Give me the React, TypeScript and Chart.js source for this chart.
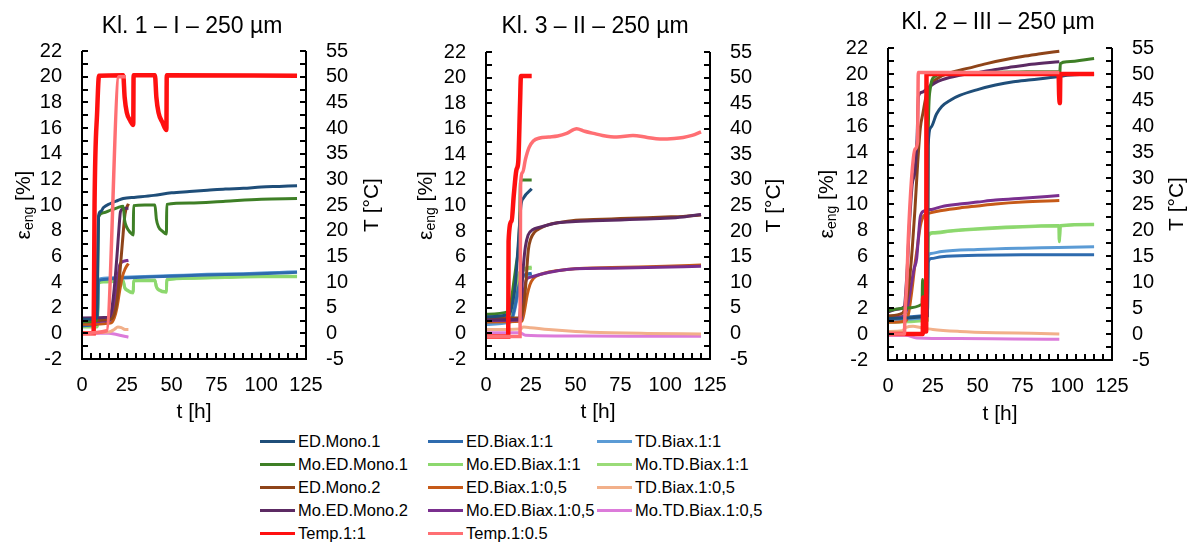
import { useEffect, useRef } from 'react';
import { Chart, registerables } from 'chart.js';

Chart.register(...registerables);

type P = [number, number][];

const FONT = '"Liberation Sans", Arial, Helvetica, sans-serif';

// ---- legend / series meta ----
const SERIES_NAMES = [
  'ED.Mono.1', 'Mo.ED.Mono.1', 'ED.Mono.2', 'Mo.ED.Mono.2',
  'ED.Biax.1:1', 'Mo.ED.Biax.1:1', 'ED.Biax.1:0,5', 'Mo.ED.Biax.1:0,5',
  'TD.Biax.1:1', 'Mo.TD.Biax.1:1', 'TD.Biax.1:0,5', 'Mo.TD.Biax.1:0,5',
  'Temp.1:1', 'Temp.1:0.5',
];
const SERIES_COLORS = [
  '#1F4E79', '#3E7F26', '#8E4419', '#5C2A63',
  '#2E6BAE', '#8CD86E', '#C65A18', '#7A2F8E',
  '#5B9BD5', '#9ADB78', '#F2B08A', '#DC7BDA',
  '#FF1010', '#FF6F73',
];
const TEMP_SERIES = [12, 13];

const PANEL_TITLES = ['Kl. 1 – I – 250 µm', 'Kl. 3 – II – 250 µm', 'Kl. 2 – III – 250 µm'];
const X_RANGE = [0, 125];
const Y_RANGE = [-2, 22];
const T_RANGE = [-5, 55];
const X_TICK_STEP = 25;
const Y_TICK_STEP = 2;
const T_TICK_STEP = 5;
const X_MINOR_STEP = 5;
const Y_MINOR_STEP = 1;
const T_MINOR_STEP = 2.5;

// ---- Panel 1 : strain [%] / temperature [°C] over t [h] ----
const P1_ED_MONO_1: P = [[0, 1.1], [5, 1.1], [8.3, 1.2], [8.8, 6], [9.3, 9.2], [10.5, 9.5], [12, 9.8], [15.6, 10.1], [20, 10.35], [23, 10.5], [30, 10.6], [40, 10.75], [50, 10.95], [60, 11.05], [70, 11.15], [80, 11.25], [90, 11.3], [100, 11.4], [110, 11.45], [120, 11.5]];
const P1_MO_ED_MONO_1: P = [[0, 0.9], [8.3, 1.0], [8.8, 5], [9.3, 9.1], [12, 9.4], [16, 9.6], [20, 9.8], [23, 9.9], [23.8, 8.8], [25, 8.25], [27, 7.85], [28.6, 7.66], [28.8, 9.95], [35, 10.0], [40.7, 10.0], [41.5, 8.9], [42.7, 8.3], [45, 7.95], [47.1, 7.74], [47.3, 10.05], [60, 10.15], [80, 10.3], [100, 10.45], [120, 10.5]];
const P1_ED_MONO_2: P = [[0, 1.0], [16, 1.1], [18, 1.5], [19.5, 2.5], [21, 4.5], [22.5, 7.0], [24, 9.3], [25.9, 10.1]];
const P1_MO_ED_MONO_2: P = [[0, 1.2], [15, 1.25], [16.5, 1.8], [18, 3.5], [19.5, 6.0], [20.8, 8.5], [21.5, 9.5], [23, 9.7], [25.9, 9.75]];
const P1_ED_BIAX_11: P = [[0, 0.6], [8.5, 0.7], [9.2, 4.1], [12, 4.2], [20, 4.3], [30, 4.35], [50, 4.45], [70, 4.55], [90, 4.6], [110, 4.7], [120, 4.75]];
const P1_MO_ED_BIAX_11: P = [[0, 0.5], [8.5, 0.5], [9.2, 3.9], [12, 4.0], [20, 4.05], [23, 4.05], [23.8, 3.6], [25, 3.4], [28.6, 3.2], [28.8, 4.1], [40.7, 4.1], [41.5, 3.65], [43, 3.4], [47.1, 3.25], [47.3, 4.15], [60, 4.3], [80, 4.4], [100, 4.45], [120, 4.45]];
const P1_ED_BIAX_105: P = [[0, 0.7], [16, 0.8], [18, 1.2], [19.5, 2.0], [21, 3.3], [22.5, 4.4], [24, 5.0], [25.9, 5.45]];
const P1_MO_ED_BIAX_105: P = [[0, 0.9], [15.5, 1.0], [17, 1.5], [18.5, 2.6], [19.8, 4.0], [21, 5.3], [23, 5.6], [25.9, 5.7]];
const P1_TD_BIAX_11: P = [[0, 0.8], [8.5, 0.9], [9.2, 4.2], [12, 4.3], [20, 4.35], [30, 4.4], [50, 4.5], [70, 4.6], [90, 4.65], [110, 4.75], [120, 4.8]];
const P1_MO_TD_BIAX_11: P = [[0, 0.6], [8.5, 0.6], [9.2, 4.0], [12, 4.05], [20, 4.1], [23, 4.1], [23.8, 3.55], [25, 3.35], [28.6, 3.15], [28.8, 4.1], [40.7, 4.15], [41.5, 3.6], [43, 3.35], [47.1, 3.2], [47.3, 4.2], [60, 4.3], [80, 4.35], [100, 4.4], [120, 4.4]];
const P1_TD_BIAX_105: P = [[0, 0.05], [15, 0.1], [18, 0.3], [20, 0.5], [22, 0.45], [24, 0.3], [25.9, 0.3]];
const P1_MO_TD_BIAX_105: P = [[0, 0], [15, 0], [18, -0.05], [21, -0.15], [25.9, -0.3]];
const P1_TEMP_11: P = [[0, 0], [6.5, 0], [7, 25], [8.5, 43.5], [9.5, 50.2], [23, 50.3], [23.8, 46], [25, 43], [27, 41.4], [28.6, 40.6], [28.8, 50.3], [40.7, 50.3], [41.5, 46], [42.7, 43], [45, 41], [47.1, 39.6], [47.3, 50.3], [120, 50.2]];
const P1_TEMP_105: P = [[0, 0], [13.8, 0.5], [20.6, 50], [24.5, 50]];

// ---- Panel 2 ----
const P2_ED_MONO_1: P = [[0, 1.3], [13, 1.5], [15, 2.5], [16.5, 4], [17.5, 6], [18.5, 8], [19.5, 10], [21, 10.6], [25.5, 11.3]];
const P2_MO_ED_MONO_1: P = [[0, 1.5], [12.5, 1.7], [14, 2.5], [15.5, 4], [17, 5.5], [18, 6.5], [18.8, 9], [19.2, 11.8], [20, 12.0], [25.5, 12.0]];
const P2_ED_MONO_2: P = [[0, 1.2], [19, 1.2], [20.5, 1.8], [22, 3.5], [23.6, 6.5], [25, 7.4], [27, 7.9], [30, 8.2], [35, 8.5], [40, 8.65], [50, 8.85], [60, 8.9], [70, 8.95], [80, 9.0], [90, 9.05], [100, 9.1], [110, 9.15], [120, 9.25]];
const P2_MO_ED_MONO_2: P = [[0, 1.05], [18.5, 1.1], [19.5, 2.5], [21, 5.5], [22, 6.8], [23.5, 7.7], [26, 8.1], [30, 8.3], [35, 8.5], [40, 8.65], [50, 8.75], [60, 8.8], [70, 8.85], [80, 8.9], [90, 8.95], [100, 9.0], [110, 9.1], [120, 9.3]];
const P2_ED_BIAX_11: P = [[0, 0.9], [14, 1.1], [16, 2], [18, 3.5], [20, 4.4], [22, 4.6], [25.5, 4.7]];
const P2_MO_ED_BIAX_11: P = [[0, 1.2], [14, 1.4], [16, 2.8], [18, 4.5], [20, 5.0], [22, 5.1], [25.5, 5.2]];
const P2_ED_BIAX_105: P = [[0, 0.9], [20, 0.95], [21.5, 1.8], [23, 3.0], [24.5, 3.8], [26.5, 4.3], [30, 4.6], [35, 4.8], [45, 5.0], [55, 5.1], [70, 5.15], [85, 5.2], [100, 5.25], [120, 5.35]];
const P2_MO_ED_BIAX_105: P = [[0, 1.0], [19.5, 1.05], [21, 3.0], [22.5, 4.2], [25, 4.4], [30, 4.6], [40, 4.9], [50, 5.05], [70, 5.1], [90, 5.15], [120, 5.25]];
const P2_TD_BIAX_11: P = [[0, 0.7], [14, 0.9], [16, 1.8], [18, 3.2], [20, 4.3], [22, 4.5], [25.5, 4.6]];
const P2_MO_TD_BIAX_11: P = [[0, 1.0], [14, 1.2], [16, 2.5], [18, 4.0], [20, 4.8], [22, 5.0], [25.5, 5.1]];
const P2_TD_BIAX_105: P = [[0, 0.3], [19, 0.35], [21, 0.5], [25, 0.45], [35, 0.3], [50, 0.15], [70, 0.05], [90, 0], [120, -0.05]];
const P2_MO_TD_BIAX_105: P = [[0, 0.05], [19, 0.05], [22, -0.15], [40, -0.2], [80, -0.22], [120, -0.22]];
const P2_TEMP_11: P = [[0, -0.6], [12.4, -0.6], [12.6, 18], [14.3, 22], [15.5, 27], [17, 32], [18, 33.5], [19, 45], [19.5, 50.3], [25.5, 50.3]];
const P2_TEMP_105: P = [[0, -0.6], [19, -0.6], [19.3, 29], [20.5, 31.5], [22, 34], [24, 36.3], [26.4, 37.6], [30, 38.2], [35, 38.4], [40, 38.6], [45, 39.1], [50.6, 40.0], [55, 39.5], [60, 39.1], [65, 38.7], [73, 38.4], [82, 38.7], [90, 38.3], [97, 38.0], [105, 38.1], [110, 38.3], [115, 38.7], [120, 39.4]];

// ---- Panel 3 ----
const P3_ED_MONO_1: P = [[0, 1.2], [22, 1.4], [22.4, 14.5], [24, 15.9], [27, 16.9], [30, 17.5], [35, 18.0], [40, 18.35], [50, 18.8], [60, 19.15], [70, 19.4], [80, 19.55], [95.5, 19.8], [100, 19.9], [115, 20.0]];
const P3_MO_ED_MONO_1: P = [[0, 1.8], [10, 2.0], [19, 2.3], [19.3, 4.2], [19.6, 2.3], [22, 2.4], [22.4, 15], [23.5, 18.8], [26, 19.8], [32, 20.05], [50, 20.1], [70, 20.15], [95.4, 20.2], [95.7, 19.6], [96.2, 20.8], [100, 20.95], [115, 21.2]];
const P3_ED_MONO_2: P = [[0, 1.4], [8, 1.6], [10, 2.3], [12, 4.2], [13.5, 6.5], [15, 9.5], [16.5, 13], [18, 15.8], [19.5, 17.0], [21.3, 18.3], [24, 19.2], [28, 19.7], [35, 20.1], [45, 20.45], [55, 20.8], [65, 21.1], [75, 21.35], [85, 21.55], [95.6, 21.75]];
const P3_MO_ED_MONO_2: P = [[0, 1.7], [5, 1.9], [9, 2.1], [10.5, 4.5], [12, 8.5], [13.5, 11.5], [15, 12.5], [16.2, 15], [17, 18.3], [19, 18.6], [22, 18.9], [26, 19.3], [30, 19.55], [40, 19.9], [50, 20.1], [60, 20.35], [70, 20.55], [80, 20.75], [95.6, 20.95]];
const P3_ED_BIAX_11: P = [[0, 1.3], [22, 1.45], [22.4, 5.5], [24, 5.8], [30, 5.95], [50, 6.05], [75, 6.1], [95, 6.1], [115, 6.1]];
const P3_MO_ED_BIAX_11: P = [[0, 1.0], [22, 1.1], [22.4, 7.6], [25, 7.8], [35, 7.95], [50, 8.1], [70, 8.25], [95.4, 8.35], [95.6, 7.1], [96.2, 8.35], [115, 8.45]];
const P3_ED_BIAX_105: P = [[0, 0.9], [10, 1.0], [11.5, 1.6], [13, 3.0], [15, 5.3], [16.5, 6.8], [18, 8.3], [20, 9.1], [23, 9.3], [30, 9.5], [40, 9.7], [50, 9.85], [60, 10.0], [75, 10.15], [95.6, 10.26]];
const P3_MO_ED_BIAX_105: P = [[0, 1.2], [9, 1.4], [11, 2.2], [13, 3.8], [14.5, 5.0], [16, 5.8], [17, 7.5], [18, 9.0], [20, 9.45], [25, 9.6], [30, 9.8], [40, 10.0], [50, 10.15], [60, 10.3], [75, 10.45], [95.6, 10.65]];
const P3_TD_BIAX_11: P = [[0, 1.1], [22, 1.3], [22.4, 6.0], [24, 6.2], [30, 6.35], [50, 6.5], [75, 6.6], [95, 6.65], [115, 6.72]];
const P3_MO_TD_BIAX_11: P = [[0, 0.9], [22, 1.05], [22.4, 7.5], [25, 7.75], [35, 7.9], [50, 8.05], [70, 8.2], [95.4, 8.3], [95.6, 7.2], [96.2, 8.3], [115, 8.4]];
const P3_TD_BIAX_105: P = [[0, 0.2], [8, 0.25], [10, 0.5], [14, 0.6], [18, 0.5], [25, 0.35], [40, 0.2], [60, 0.1], [80, 0.05], [95.6, 0]];
const P3_MO_TD_BIAX_105: P = [[0, -0.1], [10, -0.1], [16, -0.3], [40, -0.35], [70, -0.38], [95.6, -0.4]];
const P3_TEMP_11: P = [[0, 0], [19.4, 0], [19.6, 7], [19.9, 0.5], [21.3, 0.5], [21.5, 50], [95.2, 50], [95.5, 46], [95.9, 44.4], [96.2, 50], [115, 50]];
const P3_TEMP_105: P = [[0, 0], [9.2, 0], [9.4, 3], [10.5, 10], [11.3, 18], [13.1, 29.6], [15, 35.5], [16.5, 37], [16.9, 50.3], [95.6, 50.3]];

const PANEL_DATA: P[][] = [
  [P1_ED_MONO_1, P1_MO_ED_MONO_1, P1_ED_MONO_2, P1_MO_ED_MONO_2, P1_ED_BIAX_11, P1_MO_ED_BIAX_11, P1_ED_BIAX_105, P1_MO_ED_BIAX_105, P1_TD_BIAX_11, P1_MO_TD_BIAX_11, P1_TD_BIAX_105, P1_MO_TD_BIAX_105, P1_TEMP_11, P1_TEMP_105],
  [P2_ED_MONO_1, P2_MO_ED_MONO_1, P2_ED_MONO_2, P2_MO_ED_MONO_2, P2_ED_BIAX_11, P2_MO_ED_BIAX_11, P2_ED_BIAX_105, P2_MO_ED_BIAX_105, P2_TD_BIAX_11, P2_MO_TD_BIAX_11, P2_TD_BIAX_105, P2_MO_TD_BIAX_105, P2_TEMP_11, P2_TEMP_105],
  [P3_ED_MONO_1, P3_MO_ED_MONO_1, P3_ED_MONO_2, P3_MO_ED_MONO_2, P3_ED_BIAX_11, P3_MO_ED_BIAX_11, P3_ED_BIAX_105, P3_MO_ED_BIAX_105, P3_TD_BIAX_11, P3_MO_TD_BIAX_11, P3_TD_BIAX_105, P3_MO_TD_BIAX_105, P3_TEMP_11, P3_TEMP_105],
];

// ---- layout (pixels) ----
const CANVAS_H = 430;
const PANELS = [
  { left: 0, width: 400, aL: 82, aR: 306, aT: 51, aB: 359, titleX: 192, titleY: 27, lTitleX: 24, rTitleX: 372, xTitleY: 412 },
  { left: 400, width: 400, aL: 86, aR: 310, aT: 52, aB: 359, titleX: 195, titleY: 27, lTitleX: 26, rTitleX: 374, xTitleY: 412 },
  { left: 800, width: 392, aL: 88, aR: 312, aT: 48, aB: 360, titleX: 198, titleY: 23, lTitleX: 27, rTitleX: 377, xTitleY: 414 },
];

const DRAW_ORDER = [13, 12, 0, 1, 3, 2, 7, 6, 4, 8, 5, 9, 10, 11];

function drawTicks(ctx: CanvasRenderingContext2D, L: number, R: number, T: number, B: number) {
  const TL = 6;
  ctx.fillStyle = '#000';
  const ny = Math.round((Y_RANGE[1] - Y_RANGE[0]) / Y_MINOR_STEP);
  for (let i = 0; i <= ny; i++) {
    const p = Math.round(B - (i / ny) * (B - T));
    ctx.fillRect(L, p - 1, TL, 2);
  }
  const nt = Math.round((T_RANGE[1] - T_RANGE[0]) / T_MINOR_STEP);
  for (let i = 0; i <= nt; i++) {
    const p = Math.round(B - (i / nt) * (B - T));
    ctx.fillRect(R - TL, p - 1, TL, 2);
  }
  const nx = Math.round((X_RANGE[1] - X_RANGE[0]) / X_MINOR_STEP);
  for (let i = 0; i <= nx; i++) {
    const p = Math.round(L + (i / nx) * (R - L));
    ctx.fillRect(p - 1, B - TL, 2, TL);
  }
}

const framePlugin = {
  id: 'frame',
  afterDraw(chart: any, _a: any, o: any) {
    const ctx: CanvasRenderingContext2D = chart.ctx;
    const a = chart.chartArea;
    const L = Math.round(a.left), R = Math.round(a.right), T = Math.round(a.top), B = Math.round(a.bottom);
    ctx.save();
    ctx.fillStyle = '#000';
    ctx.fillRect(L - 1, T, 2, B - T + 1);
    ctx.fillRect(R - 1, T, 2, B - T + 1);
    ctx.fillRect(L - 1, B - 1, R - L + 2, 2);
    drawTicks(ctx, L, R, T, B);

    ctx.fillStyle = '#000';
    ctx.textAlign = 'center';
    ctx.textBaseline = 'middle';
    ctx.font = `23px ${FONT}`;
    ctx.fillText(o.title, o.titleX, o.titleY);
    ctx.font = `21px ${FONT}`;
    ctx.fillText('t [h]', (a.left + a.right) / 2, o.xTitleY);

    const cy = (a.top + a.bottom) / 2;
    ctx.save();
    ctx.translate(o.rTitleX, cy);
    ctx.rotate(-Math.PI / 2);
    ctx.fillText('T [°C]', 0, 0);
    ctx.restore();

    ctx.save();
    ctx.translate(o.lTitleX, cy);
    ctx.rotate(-Math.PI / 2);
    ctx.textAlign = 'left';
    ctx.font = `21px ${FONT}`;
    const w1 = ctx.measureText('ε').width;
    const w3 = ctx.measureText(' [%]').width;
    ctx.font = `14px ${FONT}`;
    const w2 = ctx.measureText('eng').width;
    const start = -(w1 + w2 + w3) / 2;
    ctx.font = `21px ${FONT}`;
    ctx.fillText('ε', start, 0);
    ctx.font = `14px ${FONT}`;
    ctx.fillText('eng', start + w1, 5);
    ctx.font = `21px ${FONT}`;
    ctx.fillText(' [%]', start + w1 + w2, 0);
    ctx.restore();
    ctx.restore();
  },
};

function Panel({ idx }: { idx: number }) {
  const ref = useRef<HTMLCanvasElement | null>(null);
  const g = PANELS[idx];
  useEffect(() => {
    if (!ref.current) return;
    const data = PANEL_DATA[idx];
    const datasets = DRAW_ORDER.map((s) => {
      const isT = TEMP_SERIES.includes(s);
      return {
        label: SERIES_NAMES[s],
        data: data[s].map(([x, y]) => ({ x, y })),
        borderColor: SERIES_COLORS[s],
        backgroundColor: SERIES_COLORS[s],
        borderWidth: s === 12 ? 4.5 : s === 13 ? 3.5 : 3,
        pointRadius: 0,
        fill: false,
        cubicInterpolationMode: 'monotone' as const,
        yAxisID: isT ? 'y1' : 'y',
      };
    });
    const tickFont = { family: FONT, size: 20 };
    const chart = new Chart(ref.current, {
      type: 'line',
      data: { datasets },
      plugins: [framePlugin],
      options: {
        animation: false,
        responsive: false,
        layout: { padding: { top: g.aT, left: 0, right: 0, bottom: 0 } },
        plugins: {
          legend: { display: false },
          tooltip: { enabled: false },
          frame: { title: PANEL_TITLES[idx], titleX: g.titleX, titleY: g.titleY, lTitleX: g.lTitleX, rTitleX: g.rTitleX, xTitleY: g.xTitleY },
        } as any,
        scales: {
          x: {
            type: 'linear', min: X_RANGE[0], max: X_RANGE[1],
            ticks: { stepSize: X_TICK_STEP, autoSkip: false, maxRotation: 0, font: tickFont, color: '#000', padding: 14 },
            grid: { display: false, drawTicks: false },
            border: { display: false },
            afterFit: (s: any) => { s.height = CANVAS_H - g.aB; },
          },
          y: {
            type: 'linear', position: 'left', min: Y_RANGE[0], max: Y_RANGE[1],
            ticks: { stepSize: Y_TICK_STEP, autoSkip: false, font: tickFont, color: '#000', padding: 20 },
            grid: { display: false, drawTicks: false },
            border: { display: false },
            afterFit: (s: any) => { s.width = g.aL; },
          },
          y1: {
            type: 'linear', position: 'right', min: T_RANGE[0], max: T_RANGE[1],
            ticks: { stepSize: T_TICK_STEP, autoSkip: false, font: tickFont, color: '#000', padding: 20 },
            grid: { display: false, drawTicks: false },
            border: { display: false },
            afterFit: (s: any) => { s.width = g.width - g.aR; },
          },
        },
      } as any,
    });
    return () => chart.destroy();
  }, [idx]);
  return (
    <canvas
      ref={ref}
      width={g.width}
      height={CANVAS_H}
      style={{ position: 'absolute', left: g.left, top: 0, width: g.width, height: CANVAS_H }}
    />
  );
}

const LEGEND_COLS = [
  { lineX: 260, items: [0, 1, 2, 3, 12] },
  { lineX: 428, items: [4, 5, 6, 7, 13] },
  { lineX: 597, items: [8, 9, 10, 11] },
];
const LEGEND_ROW_Y = [441.5, 464.5, 487.5, 510.5, 533];

function Legend() {
  return (
    <>
      {LEGEND_COLS.map((c, ci) =>
        c.items.map((s, ri) => (
          <div
            key={`${ci}-${ri}`}
            style={{
              position: 'absolute', left: c.lineX, top: LEGEND_ROW_Y[ri] - 11, height: 22,
              display: 'flex', alignItems: 'center', whiteSpace: 'nowrap',
              fontFamily: FONT, fontSize: 16.5, color: '#000',
            }}
          >
            <span style={{ display: 'inline-block', width: 35, height: 3, background: SERIES_COLORS[s] }} />
            <span style={{ marginLeft: 3 }}>{SERIES_NAMES[s]}</span>
          </div>
        ))
      )}
    </>
  );
}

export default function App() {
  return (
    <div style={{ position: 'absolute', left: 0, top: 0, width: 1192, height: 542, background: '#fff', overflow: 'hidden' }}>
      <Panel idx={0} />
      <Panel idx={1} />
      <Panel idx={2} />
      <Legend />
    </div>
  );
}
